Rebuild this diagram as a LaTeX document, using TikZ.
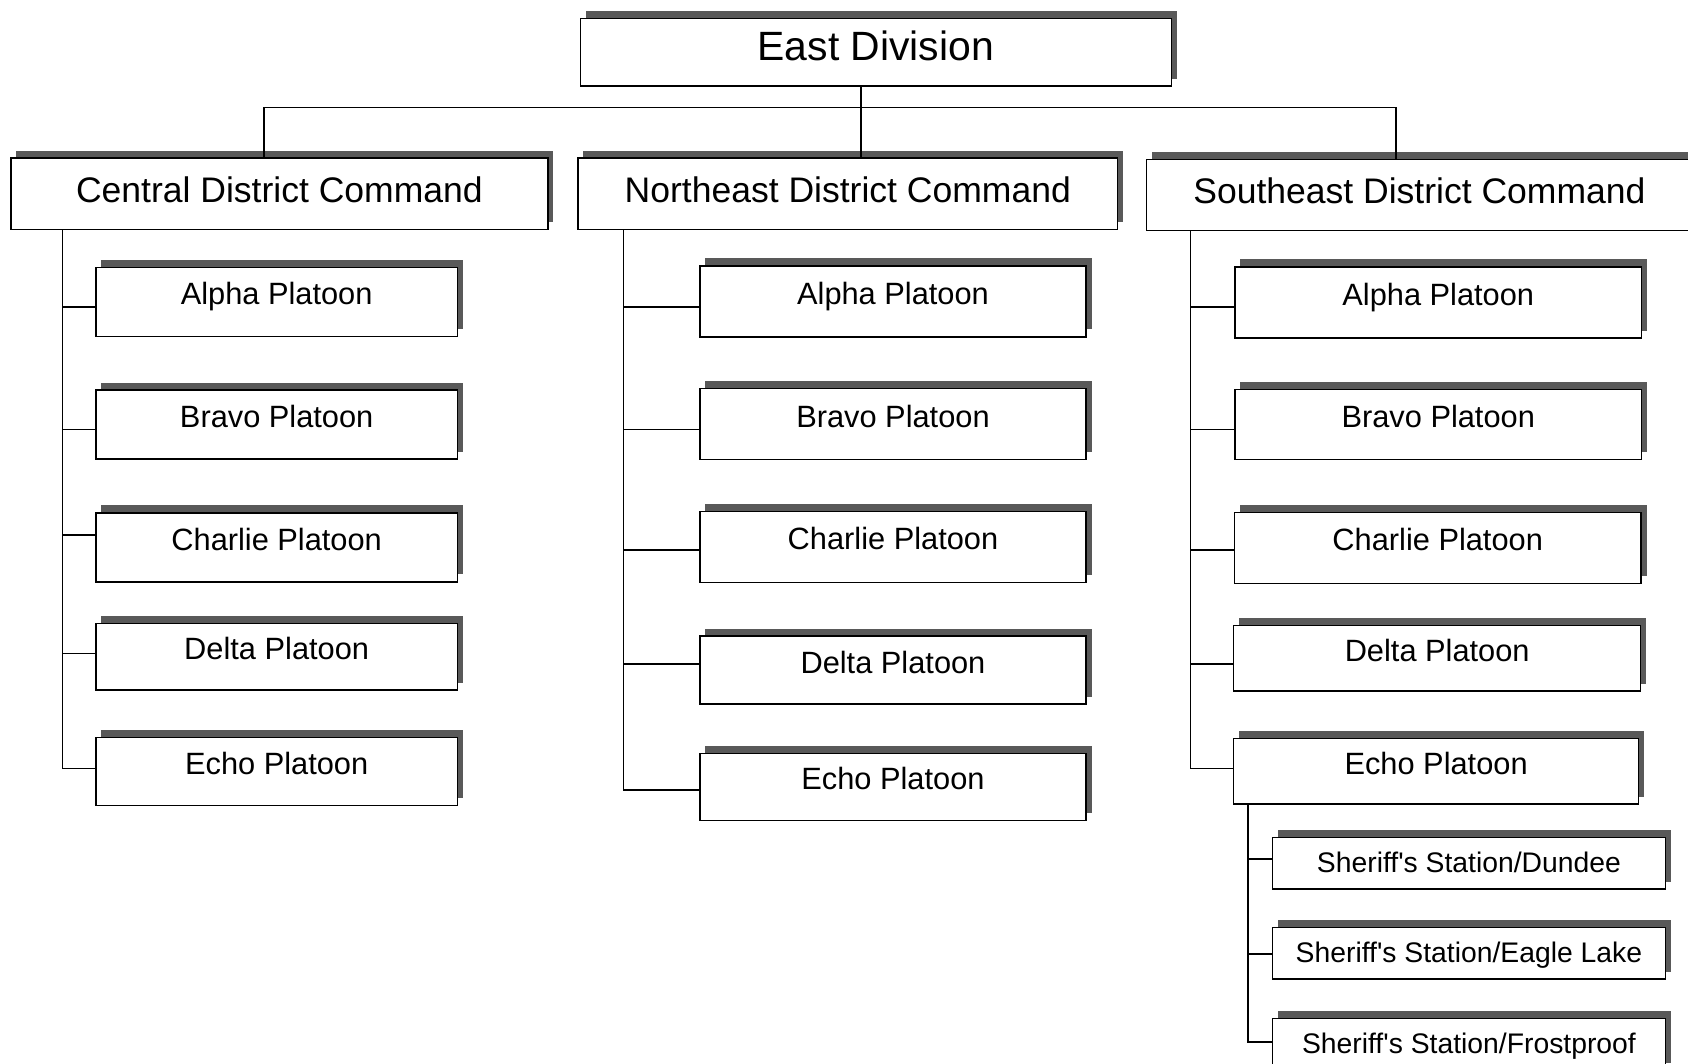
\documentclass[tikz,border=0pt]{standalone}
\usepackage{fontspec}
\setmainfont{Liberation Sans}[Ligatures=TeXOff]
\usetikzlibrary{shadows}
\begin{document}
\begin{tikzpicture}[x=1pt,y=-1pt,
  box/.style={draw=black, fill=white, line width=1.4pt, inner sep=0pt, rectangle,
    general shadow={fill=black!65, shadow xshift=5pt, shadow yshift=7pt}},
  topbox/.style={box, minimum width=549pt, minimum height=63pt,
    font=\fontsize{38}{40}\selectfont, text height=27.2pt, text depth=11pt},
  distbox/.style={box, minimum height=66pt,
    font=\fontsize{33}{35}\selectfont, text height=23.6pt, text depth=8pt},
  platbox/.style={box, minimum height=64pt,
    font=\fontsize{28.6}{30}\selectfont, text height=20.5pt, text depth=15pt},
  shbox/.style={box, minimum width=365pt, minimum height=48pt,
    font=\fontsize{26.3}{28}\selectfont, text height=18.8pt, text depth=2pt},
  conn/.style={draw=black, line width=1.5pt}]
\useasboundingbox (0,0) rectangle (1568,988);
\clip (0,0) rectangle (1568,988);
\fill[white] (0,0) rectangle (1568,988);

% top
\node[topbox] (ed) at (813.5,48.5) {East Division};
% districts
\node[distbox, minimum width=499pt] (cdc) at (259.5,180) {Central District Command};
\node[distbox, minimum width=501pt] (ndc) at (787.5,180) {Northeast District Command};
\node[distbox, minimum width=507pt] (sdc) at (1318.5,181) {Southeast District Command};

\coordinate (bus) at (800,100);
\draw[conn] (ed.south -| bus) -- (bus);
\draw[conn] (cdc.north -| 245,0) |- (bus) -| (sdc.north -| 1297,0);
\draw[conn] (bus) -- (ndc.north -| bus);

% Central platoons
\node[platbox, minimum width=336pt] (ca) at (257,280.5) {Alpha Platoon};
\node[platbox, minimum width=336pt] (cb) at (257,394.5) {Bravo Platoon};
\node[platbox, minimum width=336pt] (cc) at (257,508.5) {Charlie Platoon};
\node[platbox, minimum width=336pt, minimum height=62pt] (cd) at (257,610) {Delta Platoon};
\node[platbox, minimum width=336pt, minimum height=63pt] (ce) at (257,716.5) {Echo Platoon};
\coordinate (ct) at (58,213);
\draw[conn] (ct) |- ([yshift=2.5pt]ce.west);
\foreach \p/\d in {ca/-4.5, cb/-4.5, cc/11.5, cd/3}
  \draw[conn] ([yshift=\d pt]\p.west) -- ([yshift=\d pt]\p.west -| ct);

% Northeast platoons
\node[platbox, minimum width=359pt, minimum height=66pt] (na) at (829.5,280) {Alpha Platoon};
\node[platbox, minimum width=359pt, minimum height=66pt] (nb) at (829.5,394) {Bravo Platoon};
\node[platbox, minimum width=359pt, minimum height=66pt] (nc) at (829.5,508) {Charlie Platoon};
\node[platbox, minimum width=359pt, minimum height=63pt] (nd) at (829.5,622.5) {Delta Platoon};
\node[platbox, minimum width=359pt, minimum height=62pt] (ne) at (829.5,731) {Echo Platoon};
\coordinate (nt) at (579,213);
\draw[conn] (nt) |- ([yshift=-3pt]ne.west);
\foreach \p/\d in {na/-5, nb/-5, nc/-3, nd/5.5}
  \draw[conn] ([yshift=\d pt]\p.west) -- ([yshift=\d pt]\p.west -| nt);

% Southeast platoons
\node[platbox, minimum width=378pt, minimum height=66pt] (sa) at (1336,281) {Alpha Platoon};
\node[platbox, minimum width=378pt, minimum height=65pt] (sb) at (1336,394.5) {Bravo Platoon};
\node[platbox, minimum width=378pt, minimum height=66pt] (sc) at (1335.5,509) {Charlie Platoon};
\node[platbox, minimum width=378pt, minimum height=61pt] (sd) at (1335,611.5) {Delta Platoon};
\node[platbox, minimum width=376pt, minimum height=61pt] (se) at (1334,716.5) {Echo Platoon};
\coordinate (st) at (1106,214);
\draw[conn] (st) |- ([yshift=2.5pt]se.west);
\foreach \p/\d in {sa/-4, sb/-4.5, sc/-2, sd/-5.5}
  \draw[conn] ([yshift=\d pt]\p.west) -- ([yshift=\d pt]\p.west -| st);

% Sheriff's stations
\node[shbox] (s1) at (1364.5,802) {Sheriff's Station/Dundee};
\node[shbox] (s2) at (1364.5,885.5) {Sheriff's Station/Eagle Lake};
\node[shbox] (s3) at (1364.5,970) {Sheriff's Station/Frostproof};
\coordinate (xt) at (1159,747);
\draw[conn] (xt) |- ([yshift=2pt]s3.west);
\foreach \p/\d in {s1/4, s2/-0.5}
  \draw[conn] ([yshift=\d pt]\p.west) -- ([yshift=\d pt]\p.west -| xt);
\end{tikzpicture}
\end{document}
